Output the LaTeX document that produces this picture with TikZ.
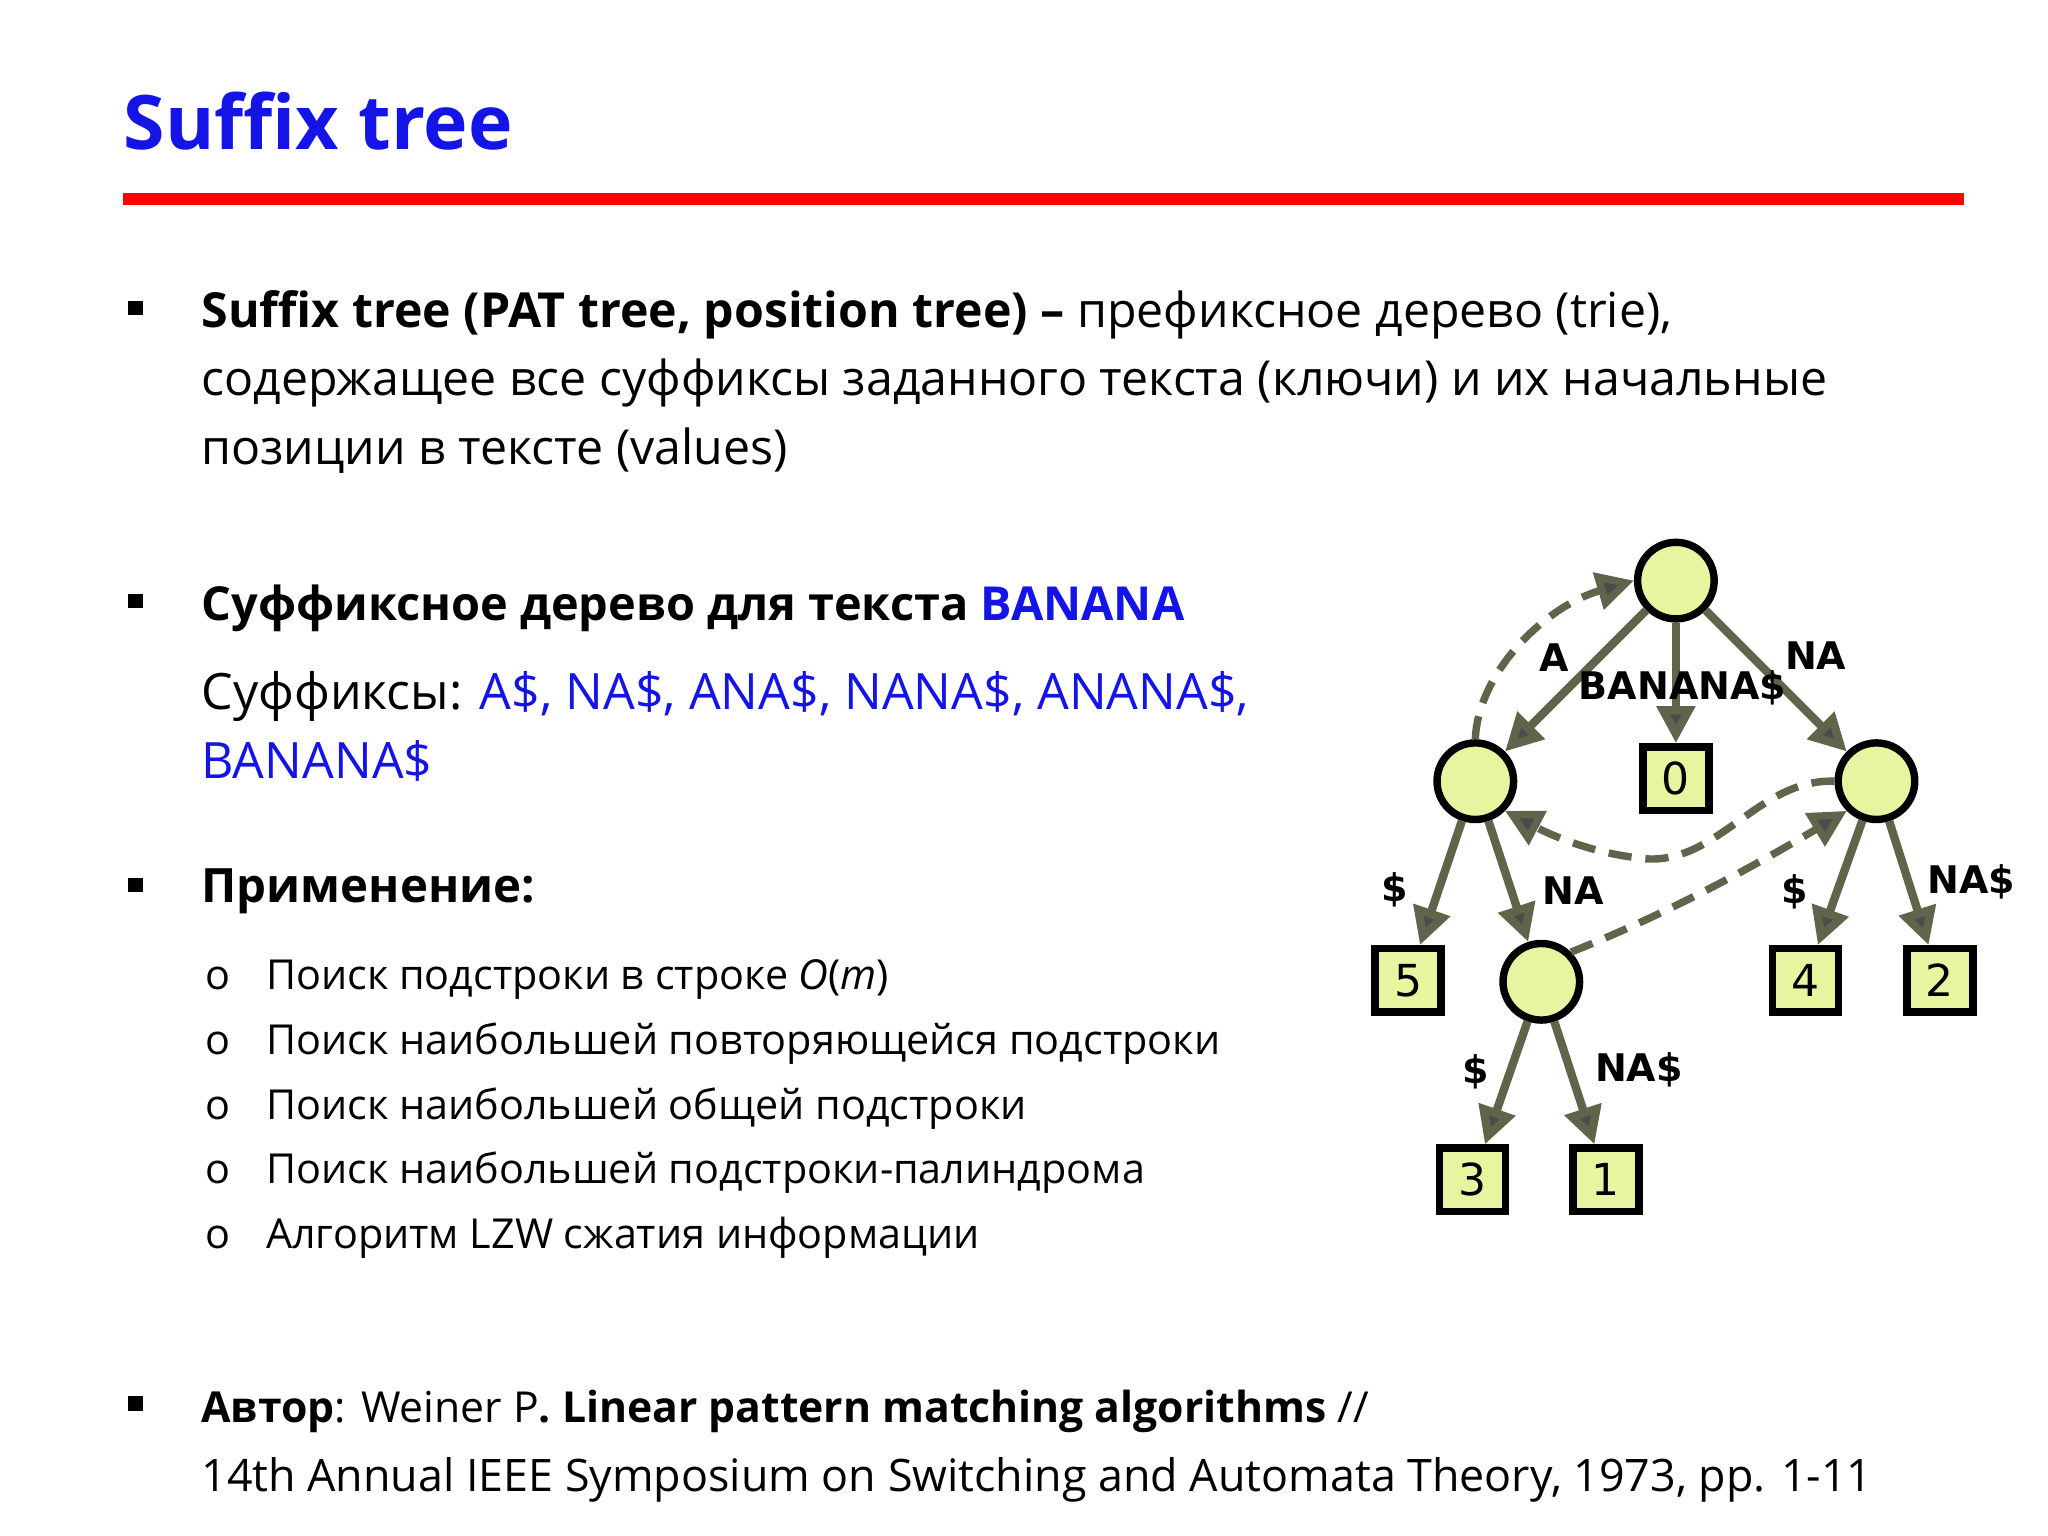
\documentclass[tikz,border=0pt]{standalone}
\usepackage{fontspec}
\setmainfont{Open Sans}
\newfontfamily\treefont{DejaVu Sans}
\usetikzlibrary{arrows.meta}
\definecolor{ttl}{RGB}{20,20,230}
\definecolor{lnk}{RGB}{20,20,230}
\definecolor{nfill}{RGB}{232,245,160}
\definecolor{edg}{RGB}{95,100,75}
\tikzset{
 inode/.style={circle,draw=black,line width=1.6pt,fill=nfill,minimum size=0.58cm,inner sep=0},
 leaf/.style={rectangle,draw=black,line width=1.6pt,fill=nfill,minimum width=0.5cm,minimum height=0.48cm,inner sep=0,font=\treefont\fontsize{9.5}{9.5}\selectfont},
 edge/.style={draw=edg,line width=1.8pt,-{Triangle[length=8pt,width=8pt,fill=black!70]}},
 slink/.style={draw=edg,line width=1.6pt,dashed,dash pattern=on 5pt off 3pt,-{Triangle[length=8pt,width=8pt,fill=black!70]}},
 elab/.style={font=\treefont\bfseries\fontsize{8.2}{8.2}\selectfont,inner sep=1pt},
 body/.style={anchor=base west,inner sep=0,font=\fontsize{10.4}{10.4}\selectfont},
 item/.style={anchor=base west,inner sep=0,font=\fontsize{8.9}{8.9}\selectfont},
}
\begin{document}
\begin{tikzpicture}[x=0.01cm,y=-0.01cm]
\useasboundingbox (0,0) rectangle (1552,1164);
\fill[white] (0,0) rectangle (1552,1164);
\node[anchor=base west,inner sep=0,text=ttl,font=\bfseries\fontsize{16.2}{16.2}\selectfont] (title) at (93,113) {Suffix tree};
\draw[red,line width=2.5pt] (93,151) -- (1488,151);
\foreach \y [count=\i] in {233,455,670,1063} \fill (97,\y+6) rectangle +(11,-11);
\node[body] (t1) at (152,248) {\textbf{Suffix tree (PAT tree, position tree) –} префиксное дерево (trie),};
\node[body] (t2) at (152,300) {содержащее все суффиксы заданного текста (ключи) и их начальные};
\node[body] (t3) at (152,352) {позиции в тексте (values)};
\node[body,font=\fontsize{10.1}{10.1}\selectfont] (t4) at (152,470) {\textbf{Суффиксное дерево для текста \textcolor{lnk}{BANANA}}};
\node[body,font=\fontsize{10.8}{10.8}\selectfont] (t5) at (152,538) {Суффиксы: \textcolor{lnk}{A\$, NA\$, ANA\$, NANA\$, ANANA\$,}};
\node[body,font=\fontsize{10.8}{10.8}\selectfont] (t6) at (152,590) {\textcolor{lnk}{BANANA\$}};
\node[body,font=\fontsize{10.2}{10.2}\selectfont] (t7) at (152,684) {\textbf{Применение:}};
\foreach \y/\t [count=\i] in {750/{Поиск подстроки в строке \textit{O}(\textit{m})},799/{Поиск наибольшей повторяющейся подстроки},848/{Поиск наибольшей общей подстроки},897/{Поиск наибольшей подстроки-палиндрома},946/{Алгоритм LZW сжатия информации}}{
 \node[item] (c\i) at (155,\y) {o};
 \node[item] (i\i) at (201,\y) {\t};
}
\node[body,font=\fontsize{9.2}{9.2}\selectfont] (t8) at (152,1078) {\textbf{Автор}: Weiner P\textbf{. Linear pattern matching algorithms} //};
\node[body,font=\fontsize{9.65}{9.65}\selectfont] (t9) at (152,1130) {14th Annual IEEE Symposium on Switching and Automata Theory, 1973, pp. 1-11};
% tree
\node[inode] (r) at (1270,440) {};
\node[inode] (a) at (1118,592) {};
\node[inode] (n) at (1422,592) {};
\node[leaf] (l0) at (1270,590) {0};
\node[leaf] (l5) at (1067,743) {5};
\node[inode] (na) at (1168,744) {};
\node[leaf] (l4) at (1368,743) {4};
\node[leaf] (l2) at (1470,743) {2};
\node[leaf] (l3) at (1116,894) {3};
\node[leaf] (l1) at (1217,894) {1};
\draw[edge] (r) -- (a);
\draw[edge] (r) -- (l0);
\draw[edge] (r) -- (n);
\draw[edge] (a) -- (l5);
\draw[edge] (a) -- (na);
\draw[edge] (n) -- (l4);
\draw[edge] (n) -- (l2);
\draw[edge] (na) -- (l3);
\draw[edge] (na) -- (l1);
\draw[slink] (a.north) .. controls (1120,510) and (1170,460) .. (r.west);
\draw[slink] (n.west) .. controls (1330,590) and (1300,660) .. (1240,650) .. controls (1200,645) and (1170,630) .. (a.south east);
\draw[slink] (na.north east) .. controls (1270,690) and (1340,650) .. (n.south west);
\node[elab] (e1) at (1178,498) {A};
\node[elab] (e2) at (1275,521) {BANANA\$};
\node[elab] (e3) at (1376,497) {NA};
\node[elab] (e4) at (1057,674) {\$};
\node[elab] (e5) at (1192,675) {NA};
\node[elab] (e6) at (1360,676) {\$};
\node[elab] (e7) at (1494,668) {NA\$};
\node[elab] (e8) at (1118,812) {\$};
\node[elab] (e9) at (1242,811) {NA\$};
\end{tikzpicture}
\end{document}
